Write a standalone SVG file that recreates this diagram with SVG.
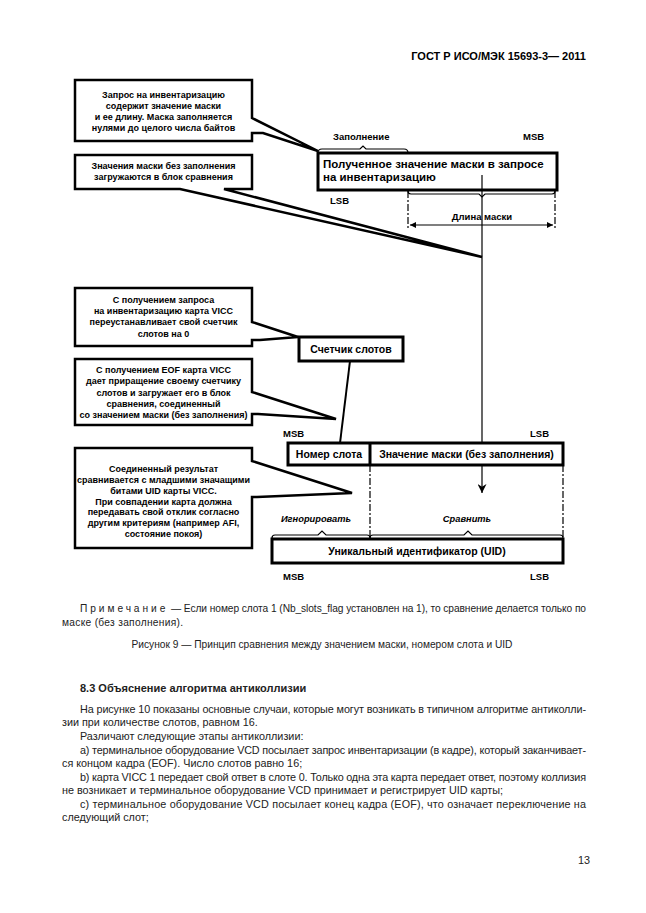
<svg xmlns="http://www.w3.org/2000/svg" width="646" height="913" viewBox="0 0 646 913">
<style>
.bg{fill:#fff}
.co{fill:#fff;stroke:#000;stroke-width:2.5;stroke-linejoin:miter}
.bx{fill:#fff;stroke:#000;stroke-width:3}
.ln{fill:none;stroke:#000;stroke-width:1.2}
.pl{fill:none;stroke:#000;stroke-width:2}
.ds{fill:none;stroke:#000;stroke-width:1.2;stroke-dasharray:7 2 2 2}
.ct{font-family:"Liberation Sans",Arial,sans-serif;font-weight:bold;font-size:9px;fill:#000;text-anchor:middle}
.bt{font-family:"Liberation Sans",Arial,sans-serif;font-weight:bold;font-size:10.5px;fill:#000}
.sm{font-family:"Liberation Sans",Arial,sans-serif;font-weight:bold;font-size:9.5px;fill:#000}
.it{font-family:"Liberation Sans",Arial,sans-serif;font-weight:bold;font-style:italic;font-size:9.3px;fill:#000;text-anchor:middle}
.tx{font-family:"Liberation Sans",Arial,sans-serif;font-size:10.8px;fill:#222}
.nt{font-family:"Liberation Sans",Arial,sans-serif;font-size:10.2px;fill:#222}
</style>
<defs>
<marker id="ah" viewBox="0 0 10 10" refX="10" refY="5" markerWidth="6" markerHeight="6" orient="auto-start-reverse" markerUnits="userSpaceOnUse">
<path d="M0,0 L10,5 L0,10 Z" fill="#000"/>
</marker>
<marker id="ad" viewBox="0 0 10 10" refX="10" refY="5" markerWidth="9" markerHeight="9" orient="auto" markerUnits="userSpaceOnUse">
<path d="M0,0 L10,5 L0,10 L3,5 Z" fill="#000"/>
</marker>
</defs>
<rect class="bg" x="0" y="0" width="646" height="913"/>

<text x="586" y="60" text-anchor="end" style="font-family:'Liberation Sans',Arial,sans-serif;font-weight:bold;font-size:11px">ГОСТ Р ИСО/МЭК 15693-3— 2011</text>

<g id="connectors">
  <path class="ln" d="M482,175 V443"/>
  <path class="ln" d="M482,465 V493" marker-end="url(#ad)"/>
  <path class="ln" d="M318,153 Q318,149 322,149 H360 L363,146 L366,149 H404 Q408,149 408,153"/>
  <path class="ln" d="M408,191 Q408,194 411,194 H479 L482,197 L485,194 H552 Q555,194 555,191"/>
  <path class="ds" d="M408,191 V230"/>
  <path class="ds" d="M555,191 V230"/>
  <path class="ln" d="M410,225 H553" marker-start="url(#ah)" marker-end="url(#ah)"/>
  <path class="pl" d="M350,361 L340,443"/>
  <path class="ds" d="M370,465 V538"/>
  <path class="ds" d="M563,465 V538"/>
  <path class="ln" d="M272,538 Q272,535 275,535 H318 L322,531 L326,535 H367 Q370,535 370,538"/>
  <path class="ln" d="M370,538 Q370,535 373,535 H464 L468,531 L472,535 H560 Q563,535 563,538"/>
</g>

<g id="callout-request">
  <path class="co" d="M75,80 H252 V118 L318,151 L263,133 H252 V141 H75 Z"/>
  <text class="ct" x="163.5" y="98">Запрос на инвентаризацию</text>
  <text class="ct" x="163.5" y="109">содержит значение маски</text>
  <text class="ct" x="163.5" y="120">и ее длину. Маска заполняется</text>
  <text class="ct" x="163.5" y="131">нулями до целого числа байтов</text>
</g>

<g id="callout-mask">
  <path class="co" d="M75,155 H252 V189 H224 L482,257 L180,189 H75 Z"/>
  <text class="ct" x="163.5" y="169">Значения маски без заполнения</text>
  <text class="ct" x="163.5" y="180">загружаются в блок сравнения</text>
</g>

<g id="mask-box">
  <text class="sm" x="333" y="140">Заполнение</text>
  <text class="sm" x="523" y="140">MSB</text>
  <rect class="bx" x="318" y="153" width="239" height="37"/>
  <path class="ln" d="M482,175 V190"/>
  <text class="bt" x="323" y="168" style="font-size:11.5px">Полученное значение маски в запросе</text>
  <text class="bt" x="323" y="181" style="font-size:11.5px">на инвентаризацию</text>
  <text class="sm" x="330" y="204">LSB</text>
  <text class="sm" x="482" y="220" text-anchor="middle">Длина маски</text>
</g>

<g id="callout-reset">
  <path class="co" d="M75,288 H252 V322 L298,337 L260,340 H252 V346 H75 Z"/>
  <text class="ct" x="163.5" y="303">С получением запроса</text>
  <text class="ct" x="163.5" y="314">на инвентаризацию карта VICC</text>
  <text class="ct" x="163.5" y="325">переустанавливает свой счетчик</text>
  <text class="ct" x="163.5" y="337">слотов на 0</text>
</g>

<g id="slot-counter">
  <rect class="bx" x="299" y="337" width="104" height="24"/>
  <text class="bt" x="351" y="352.5" text-anchor="middle">Счетчик слотов</text>
</g>

<g id="callout-eof">
  <path class="co" d="M75,359 H252 V392 L336,419 L258,414 H252 V425 H75 Z"/>
  <text class="ct" x="163.5" y="373">С получением EOF карта VICC</text>
  <text class="ct" x="163.5" y="384">дает приращение своему счетчику</text>
  <text class="ct" x="163.5" y="396">слотов и загружает его в блок</text>
  <text class="ct" x="163.5" y="407">сравнения, соединенный</text>
  <text class="ct" x="163.5" y="418">со значением маски (без заполнения)</text>
</g>

<g id="compare-box">
  <text class="sm" x="283" y="437">MSB</text>
  <text class="sm" x="530" y="437">LSB</text>
  <rect class="bx" x="288" y="443" width="275" height="22"/>
  <path class="bx" d="M370,443 V465"/>
  <text class="bt" x="329" y="457.5" text-anchor="middle">Номер слота</text>
  <text class="bt" x="466.5" y="457.5" text-anchor="middle">Значение маски (без заполнения)</text>
</g>

<g id="callout-result">
  <path class="co" d="M75,448 H252 V461 L352,493 L257,497 H252 V548 H75 Z"/>
  <text class="ct" x="163.5" y="472">Соединенный результат</text>
  <text class="ct" x="163.5" y="483">сравнивается с младшими значащими</text>
  <text class="ct" x="163.5" y="494">битами UID карты VICC.</text>
  <text class="ct" x="163.5" y="504.5">При совпадении карта должна</text>
  <text class="ct" x="163.5" y="515">передавать свой отклик согласно</text>
  <text class="ct" x="163.5" y="526">другим критериям (например AFI,</text>
  <text class="ct" x="163.5" y="536.5">состояние покоя)</text>
</g>

<g id="uid-box">
  <text class="it" x="316" y="522">Игнорировать</text>
  <text class="it" x="467" y="522">Сравнить</text>
  <rect class="bx" x="272" y="539" width="291" height="24"/>
  <text class="bt" x="417" y="555" text-anchor="middle">Уникальный идентификатор (UID)</text>
  <text class="sm" x="283" y="580">MSB</text>
  <text class="sm" x="530" y="580">LSB</text>
</g>

<g id="text-body">
  <text class="nt" x="80" y="612" textLength="506" lengthAdjust="spacing"><tspan letter-spacing="3">Примечание</tspan> — Если номер слота 1 (Nb_slots_flag установлен на 1), то сравнение делается только по</text>
  <text class="nt" x="62" y="626" letter-spacing="0.3">маске (без заполнения).</text>
  <text class="nt" x="322" y="648" text-anchor="middle">Рисунок 9 — Принцип сравнения между значением маски, номером слота и UID</text>
  <text class="tx" x="80" y="692" style="font-weight:bold;font-size:11px">8.3 Объяснение алгоритма антиколлизии</text>
  <text class="tx" x="80" y="713" textLength="506" lengthAdjust="spacing">На рисунке 10 показаны основные случаи, которые могут возникать в типичном алгоритме антиколли-</text>
  <text class="tx" x="62" y="726">зии при количестве слотов, равном 16.</text>
  <text class="tx" x="80" y="740">Различают следующие этапы антиколлизии:</text>
  <text class="tx" x="80" y="754" textLength="506" lengthAdjust="spacing">а) терминальное оборудование VCD посылает запрос инвентаризации (в кадре), который заканчивает-</text>
  <text class="tx" x="62" y="767">ся концом кадра (EOF). Число слотов равно 16;</text>
  <text class="tx" x="80" y="781" textLength="506" lengthAdjust="spacing">b) карта VICC 1 передает свой ответ в слоте 0. Только одна эта карта передает ответ, поэтому коллизия</text>
  <text class="tx" x="62" y="794">не возникает и терминальное оборудование VCD принимает и регистрирует UID карты;</text>
  <text class="tx" x="80" y="808" textLength="506" lengthAdjust="spacing">с) терминальное оборудование VCD посылает конец кадра (EOF), что означает переключение на</text>
  <text class="tx" x="62" y="821">следующий слот;</text>
  <text class="tx" x="578" y="864">13</text>
</g>
</svg>
